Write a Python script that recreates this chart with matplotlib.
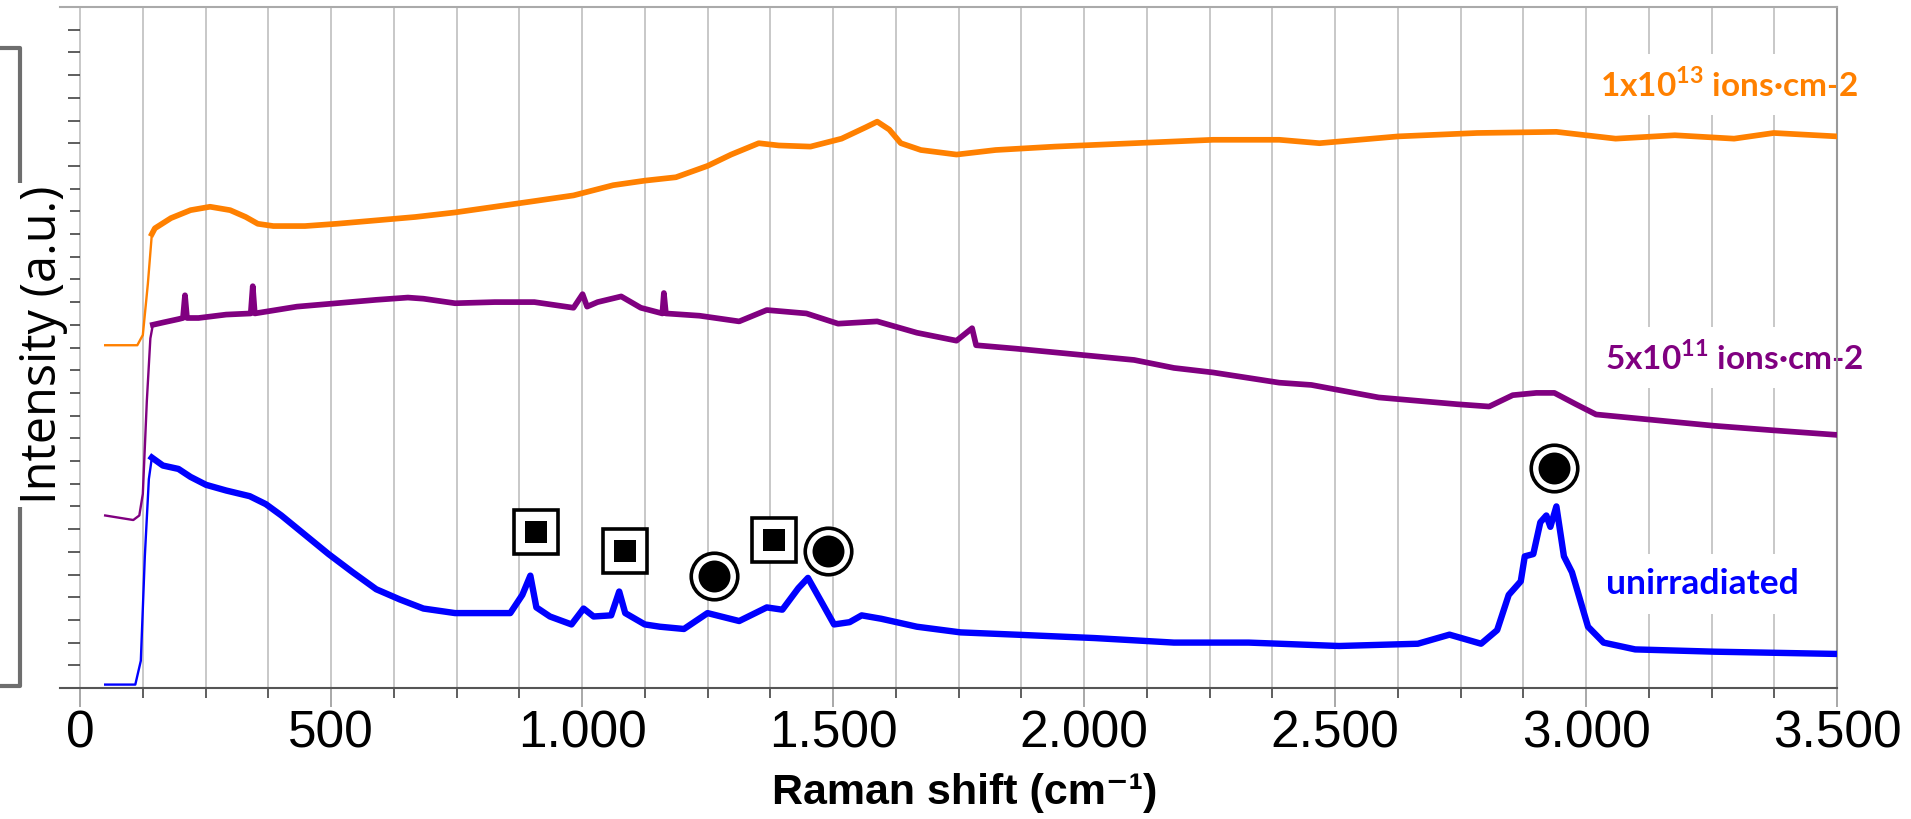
import matplotlib
matplotlib.use("Agg")
import numpy as np
import matplotlib.pyplot as plt
from matplotlib.ticker import MultipleLocator
from matplotlib.lines import Line2D

# spectra: Raman shift (cm-1) vs stacked intensity (a.u.)
blue_x = [50, 110, 121, 129, 137, 143, 165, 196, 220, 251, 291, 338, 370, 401,
          448, 495, 543, 590, 637, 684, 747, 810, 857, 881, 897, 909, 936, 979,
          1003, 1023, 1058, 1074, 1086, 1125, 1155, 1203, 1250, 1313, 1368,
          1399, 1431, 1450, 1478, 1502, 1533, 1557, 1596, 1667, 1754, 1864,
          2021, 2179, 2328, 2389, 2508, 2665, 2728, 2791, 2823, 2846, 2870,
          2878, 2895, 2909, 2921, 2929, 2941, 2956, 2972, 2988, 3004, 3035,
          3098, 3256, 3500]
blue_y = [0.015, 0.015, 0.12, 0.58, 0.92, 1.015, 0.98, 0.965, 0.93, 0.895,
          0.87, 0.845, 0.81, 0.76, 0.675, 0.59, 0.51, 0.435, 0.39, 0.35, 0.33,
          0.33, 0.33, 0.41, 0.495, 0.355, 0.315, 0.28, 0.35, 0.315, 0.32,
          0.425, 0.33, 0.28, 0.27, 0.26, 0.33, 0.295, 0.355, 0.345, 0.44,
          0.485, 0.375, 0.28, 0.29, 0.32, 0.305, 0.27, 0.245, 0.235, 0.22,
          0.2, 0.2, 0.195, 0.185, 0.195, 0.235, 0.195, 0.255, 0.41, 0.47,
          0.58, 0.59, 0.73, 0.76, 0.71, 0.80, 0.58, 0.51, 0.39, 0.27, 0.2,
          0.17, 0.16, 0.15]

purple_x = [50, 78, 106, 118, 125, 133, 140, 145, 165, 196, 205, 209, 213,
            236, 291, 340, 344, 348, 432, 511, 590, 653, 684, 747, 826, 905,
            983, 1001, 1010, 1031, 1078, 1117, 1160, 1163, 1167, 1234, 1313,
            1368, 1447, 1510, 1588, 1667, 1746, 1777, 1785, 1864, 1982, 2100,
            2179, 2257, 2389, 2453, 2587, 2744, 2807, 2854, 2901, 2937, 2980,
            3020, 3138, 3256, 3374, 3500]
purple_y = [0.76, 0.75, 0.74, 0.76, 0.855, 1.265, 1.54, 1.60, 1.61, 1.625,
            1.63, 1.73, 1.63, 1.63, 1.645, 1.65, 1.77, 1.65, 1.68, 1.695,
            1.71, 1.72, 1.715, 1.695, 1.70, 1.70, 1.675, 1.735, 1.68, 1.70,
            1.725, 1.675, 1.65, 1.74, 1.65, 1.64, 1.615, 1.665, 1.65, 1.605,
            1.615, 1.565, 1.53, 1.585, 1.51, 1.495, 1.47, 1.445, 1.41, 1.39,
            1.345, 1.335, 1.28, 1.25, 1.24, 1.29, 1.30, 1.30, 1.25, 1.205,
            1.18, 1.155, 1.135, 1.115]

orange_x = [50, 114, 125, 135, 143, 149, 181, 220, 259, 299, 330, 354, 385,
            448, 511, 590, 668, 747, 826, 905, 983, 1062, 1125, 1187, 1250,
            1297, 1352, 1392, 1455, 1517, 1565, 1588, 1612, 1635, 1675, 1746,
            1824, 1942, 2100, 2257, 2389, 2469, 2626, 2783, 2941, 3059, 3177,
            3295, 3374, 3500]
orange_y = [1.51, 1.51, 1.555, 1.78, 2.0, 2.025, 2.07, 2.105, 2.12, 2.105,
            2.075, 2.045, 2.035, 2.035, 2.045, 2.06, 2.075, 2.095, 2.12, 2.145,
            2.17, 2.215, 2.235, 2.25, 2.30, 2.35, 2.40, 2.39, 2.385, 2.42,
            2.47, 2.495, 2.46, 2.40, 2.37, 2.35, 2.37, 2.385, 2.40, 2.415,
            2.415, 2.40, 2.43, 2.445, 2.45, 2.42, 2.435, 2.42, 2.445, 2.43]

# band assignment symbols on the unirradiated spectrum
square_x = [908, 1086, 1382]
square_y = [0.687, 0.604, 0.652]
circle_x = [1263, 1490, 2936]
circle_y = [0.493, 0.604, 0.969]

series_names = ["unirradiated", "5x10$^{11}$ ions·cm-2", "1x10$^{13}$ ions·cm-2"]
series_colors = ["#0000FF", "#800080", "#FF8000"]
label_x = [3040, 3038, 3028]
label_y = [0.414, 1.401, 2.604]
label_size = [25.5, 24, 24]

xtick_vals = [0, 500, 1000, 1500, 2000, 2500, 3000, 3500]
xtick_labels = ["0", "500", "1.000", "1.500", "2.000", "2.500", "3.000", "3.500"]

plt.rcParams["mathtext.fontset"] = "custom"
plt.rcParams["mathtext.rm"] = "Lato:bold"
plt.rcParams["mathtext.bf"] = "Lato:bold"

W, H = 1911, 819
sans = ["Liberation Sans", "DejaVu Sans"]

fig = plt.figure(figsize=(W / 100, H / 100), dpi=100)
ax = fig.add_axes([60 / W, (H - 688) / H, 1777 / W, 681 / H])
ax.set_xlim(-40, 3500)
ax.set_ylim(0, 3)

# vertical grid every 125 cm-1
ax.xaxis.set_minor_locator(MultipleLocator(125))
ax.grid(True, which="both", axis="x", color="#c4c4c4", lw=1.3, zorder=0)
ax.set_axisbelow(True)

series = [(blue_x, blue_y, 4.6), (purple_x, purple_y, 4.1),
          (orange_x, orange_y, 4.1)]
for (sx, sy, lw), col in zip(series, series_colors):
    sx = np.array(sx)
    sy = np.array(sy)
    ax.plot(sx, sy, color=col, lw=1.7, zorder=3)
    m = sx >= 142
    ax.plot(sx[m], sy[m], color=col, lw=lw, zorder=3)

# square-in-square and circle-in-circle symbols
ax.plot(square_x, square_y, ls="none", marker="s", ms=32, mfc="white",
        mec="black", mew=2.6, zorder=5)
ax.plot(square_x, square_y, ls="none", marker="s", ms=15.8, mfc="black",
        mec="black", mew=0, zorder=6)
ax.plot(circle_x, circle_y, ls="none", marker="o", ms=33.5, mfc="white",
        mec="black", mew=2.6, zorder=5)
ax.plot(circle_x, circle_y, ls="none", marker="o", ms=23, mfc="black",
        mec="black", mew=0, zorder=6)

for name, col, lx, ly, fs in zip(series_names, series_colors, label_x,
                                 label_y, label_size):
    ax.text(lx, ly, name, color=col, fontsize=fs, fontweight="bold",
            family=["Lato", "DejaVu Sans"], ha="left", va="baseline",
            clip_on=False, zorder=2,
            bbox=dict(boxstyle="square,pad=0.4", fc="white", ec="none"))

# spines
ax.spines["left"].set_position(("data", 0))
ax.spines["left"].set_visible(False)
ax.spines["top"].set_color("#aaaaaa")
ax.spines["top"].set_linewidth(1.5)
ax.spines["right"].set_color("#999999")
ax.spines["right"].set_linewidth(1.5)
ax.spines["bottom"].set_color("#555555")
ax.spines["bottom"].set_linewidth(1.5)

# y ticks without labels, drawn at x = 0
ax.yaxis.set_major_locator(MultipleLocator(1))
ax.yaxis.set_minor_locator(MultipleLocator(0.1))
ax.tick_params(axis="y", which="major", direction="out", length=14.4,
               width=1.1, color="#333333", labelleft=False)
ax.tick_params(axis="y", which="minor", direction="out", length=8.6,
               width=1.1, color="#333333")

ax.set_xticks(xtick_vals, xtick_labels)
ax.tick_params(axis="x", which="major", direction="out", length=13.7,
               width=1.2, color="#999999", pad=2, labelsize=37)
ax.tick_params(axis="x", which="minor", direction="out", length=7.2,
               width=1.1, color="#333333")
for lab in ax.get_xticklabels():
    lab.set_family(sans)

ax.set_xlabel("Raman shift (cm⁻¹)", fontsize=31, fontweight="bold",
              family=sans)
ax.xaxis.set_label_coords((965 - 60) / 1777, (688 - 793) / 681)
ax.xaxis.label.set_va("center")

# y label with bracket behind it
fig.text(43 / W, 1 - 345 / H, "Intensity (a.u.)", rotation=90, ha="center",
         va="center", fontsize=35, family=["Open Sans", "DejaVu Sans"],
         zorder=3, bbox=dict(boxstyle="square,pad=0.05", fc="white",
                             ec="none"))
fig.add_artist(Line2D([0, 20 / W, 20 / W, 0],
                      [1 - 48 / H, 1 - 48 / H, 1 - 686 / H, 1 - 686 / H],
                      transform=fig.transFigure, color="#6e6e6e", lw=3,
                      zorder=1))

fig.savefig("out.png", dpi=100)
